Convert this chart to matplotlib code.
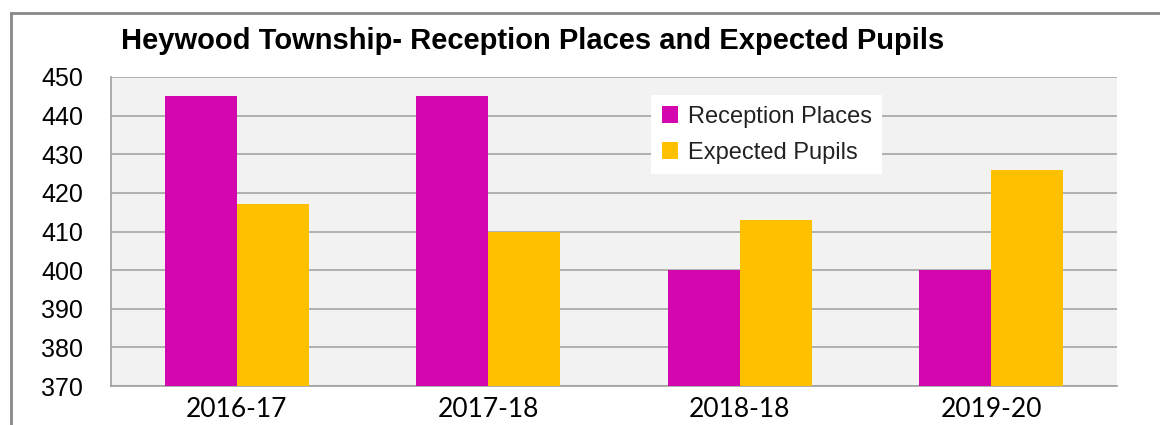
import numpy as np
import matplotlib.pyplot as plt
from matplotlib.lines import Line2D

years = ["2016-17", "2017-18", "2018-18", "2019-20"]
places = [445, 445, 400, 400]
pupils = [417, 410, 413, 426]

fig = plt.figure(figsize=(11.6, 4.25), dpi=100)
ax = fig.add_axes([111/1160, 1-386/425, (1117-111)/1160, (386-77)/425])
ax.set_facecolor("#f2f2f2")

x = np.arange(len(years))
w = 0.286
ax.bar(x - w/2, np.array(places) - 370, w, bottom=370, color="#d406ae", label="Reception Places", zorder=3)
ax.bar(x + w/2, np.array(pupils) - 370, w, bottom=370, color="#ffc000", label="Expected Pupils", zorder=3)

ax.set_xlim(-0.5, len(years) - 0.5)
ax.set_ylim(370, 450)
ax.set_yticks(range(370, 451, 10))
ax.yaxis.grid(True, color="#a6a6a6", linewidth=1.2, zorder=0)
ax.tick_params(axis="y", length=0, pad=20, labelsize=18)
ax.tick_params(axis="x", length=0, pad=8)
for lab in ax.get_yticklabels():
    lab.set_fontfamily("Liberation Sans")
ax.set_xticks(x)
ax.set_xticklabels(years, fontfamily="Lato", fontsize=19)
for s in ["top", "right"]:
    ax.spines[s].set_visible(False)
for s in ["left", "bottom"]:
    ax.spines[s].set_color("#a0a0a0")
    ax.spines[s].set_linewidth(1.2)

fig.text(533/1160, 1-41/425, "Heywood Township- Reception Places and Expected Pupils",
         ha="center", va="center", fontsize=21, fontweight="bold", fontfamily="Liberation Sans")

leg = ax.legend(loc="upper left", bbox_to_anchor=(651/1160, 1-95/425), bbox_transform=fig.transFigure,
                borderaxespad=0, frameon=True, fancybox=False, facecolor="white", edgecolor="none",
                framealpha=1, prop={"family": "Liberation Sans", "size": 17},
                handlelength=0.7, handleheight=0.7, handletextpad=0.4, labelspacing=0.6,
                borderpad=0.45)
for t in leg.get_texts():
    t.set_color("#222222")

# outer chart border
fig.add_artist(Line2D([11/1160, 11/1160], [0, 1-13/425], transform=fig.transFigure, color="#888888", linewidth=2))
fig.add_artist(Line2D([11/1160, 1], [1-13/425, 1-13/425], transform=fig.transFigure, color="#888888", linewidth=2))

fig.savefig("out.png", dpi=100)
